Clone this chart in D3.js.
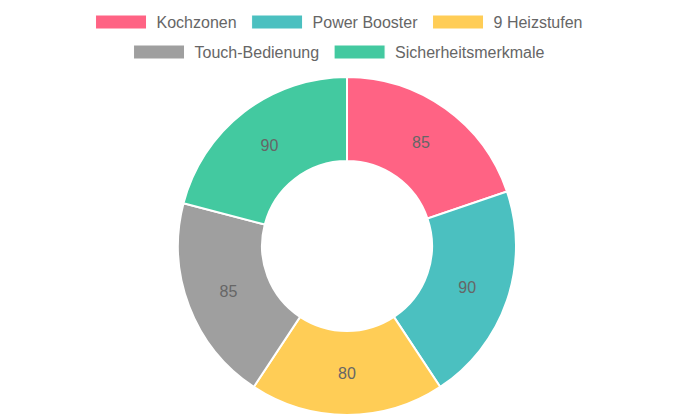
<!DOCTYPE html>
<html lang="de">
<head>
<meta charset="UTF-8">
<title>Doughnut</title>
<style>
    html, body { margin: 0; padding: 0; background: #fff; }
    svg { display: block; font-family: "Liberation Sans", Arial, Helvetica, sans-serif; }
</style>
</head>
<body>
<div id="chart"></div>
<script src="https://cdn.jsdelivr.net/npm/d3@7"></script>
<script>
    // Daten
    const labels = ["Kochzonen", "Power Booster", "9 Heizstufen", "Touch-Bedienung", "Sicherheitsmerkmale"];
    const values = [85, 90, 80, 85, 90];
    const colors = ["#ff6384", "#4bc0c0", "#ffcd56", "#9f9f9f", "#43c9a0"];
    const legendRows = [[0, 1, 2], [3, 4]];

    const width = 695, height = 417;
    const cx = 347, cy = 246;
    const outerR = 169, innerR = 85;

    const svg = d3.select("#chart").append("svg")
        .attr("width", width)
        .attr("height", height);

    const color = d3.scaleOrdinal().domain(labels).range(colors);

    // Legende
    const legend = svg.append("g");
    const rowY = [22, 52];
    legendRows.forEach((row, r) => {
        const g = legend.append("g");
        let x = 0;
        row.forEach(i => {
            g.append("rect")
                .attr("x", x).attr("y", rowY[r] - 7)
                .attr("width", 51).attr("height", 14)
                .attr("fill", color(labels[i]))
                .attr("stroke", "#fff").attr("stroke-width", 1);
            const t = g.append("text")
                .attr("x", x + 61).attr("y", rowY[r])
                .attr("dy", "0.35em")
                .attr("font-size", 16)
                .attr("fill", "#666")
                .text(labels[i]);
            x += 61 + t.node().getComputedTextLength() + 15;
        });
        const w = x - 15;
        g.attr("transform", `translate(${339 - w / 2},0)`);
    });

    // Ring
    const pie = d3.pie().sort(null).value(d => d);
    const arc = d3.arc().innerRadius(innerR).outerRadius(outerR);
    const labelArc = d3.arc().innerRadius((innerR + outerR) / 2).outerRadius((innerR + outerR) / 2);

    const g = svg.append("g").attr("transform", `translate(${cx},${cy})`);
    const arcs = pie(values);

    g.selectAll("path")
        .data(arcs)
        .join("path")
        .attr("d", arc)
        .attr("fill", (d, i) => color(labels[i]))
        .attr("stroke", "#fff")
        .attr("stroke-width", 2);

    g.selectAll("text")
        .data(arcs)
        .join("text")
        .attr("transform", d => `translate(${labelArc.centroid(d)})`)
        .attr("text-anchor", "middle")
        .attr("dy", "0.35em")
        .attr("font-size", 16)
        .attr("fill", "#666")
        .text(d => d.data);
</script>
</body>
</html>
